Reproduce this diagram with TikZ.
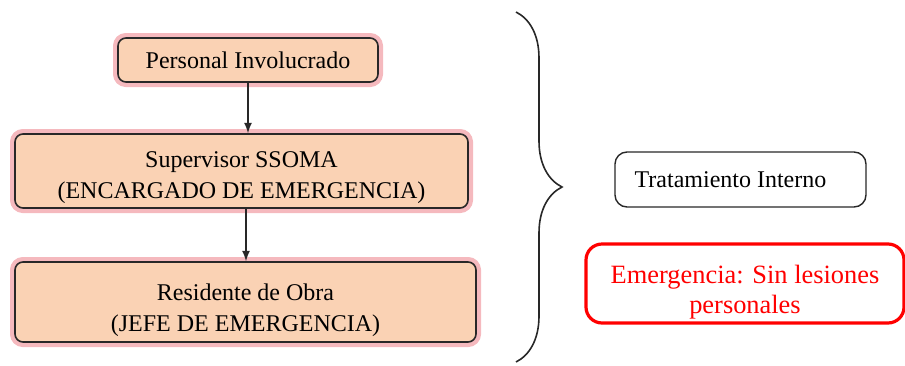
\documentclass[tikz,border=0pt]{standalone}
\usepackage{fontspec}
\setmainfont{Liberation Serif}
\usepackage{tikz}
\usetikzlibrary{arrows}
\usetikzlibrary{shapes, decorations.pathreplacing}

\definecolor{peach}{RGB}{250,210,180}
\definecolor{glowpink}{RGB}{245,185,190}
\definecolor{inkgray}{RGB}{40,40,40}
\definecolor{alertred}{RGB}{255,0,0}
\newcommand{\lowerby}[1]{\rule{0pt}{#1}}

\begin{document}
\begin{tikzpicture}[x=0.5pt,y=-0.5pt]
\tikzset{font=\fontsize{12}{15.5}\selectfont}
\tikzset{rolebox/.style={draw=inkgray, line width=0.8pt, fill=peach, rounded corners=4pt, align=center, inner sep=0pt, preaction={draw=glowpink, line width=5pt, rounded corners=4pt}}}
\tikzset{treatbox/.style={draw=inkgray, line width=0.7pt, rounded corners=6pt, align=center, inner sep=0pt}}
\tikzset{alertbox/.style={draw=alertred, line width=1.6pt, rounded corners=8pt, align=center, inner sep=0pt, text=alertred, font=\fontsize{13.2}{15}\selectfont}}
\tikzset{flow/.style={draw=inkgray, line width=0.8pt, -latex}}
\useasboundingbox (0,0) rectangle (905,365);

\node[rolebox, minimum width=130pt, minimum height=22pt] (personal) at (248,60) {Personal Involucrado};
\node[rolebox, minimum width=226.5pt, minimum height=37pt] (supervisor) at (241.5,171) {\lowerby{15pt}Supervisor SSOMA\\(ENCARGADO DE EMERGENCIA)};
\node[rolebox, minimum width=230.5pt, minimum height=40pt] (residente) at (245.5,302) {\lowerby{17pt}Residente de Obra\\(JEFE DE EMERGENCIA)};

\draw[flow] (personal.south) -- (personal.south |- supervisor.north);
\draw[flow] (supervisor.south -| 246,0) -- (residente.north -| 246,0);

% llave
\coordinate (bracetop) at (516,12);
\coordinate (bracebot) at (516,362);
\draw[inkgray, line width=0.8pt, decorate, decoration={brace, amplitude=23pt, aspect=0.5}] (bracetop) -- (bracebot);

\node[treatbox, minimum width=125.5pt, minimum height=27.5pt] (interno) at (740.5,179.5) {Tratamiento Interno\hspace{10pt}};
\node[alertbox, minimum width=159pt, minimum height=39.5pt] (emergencia) at (745,283.5) {\lowerby{18pt}Emergencia: Sin lesiones\\personales};
\end{tikzpicture}
\end{document}
